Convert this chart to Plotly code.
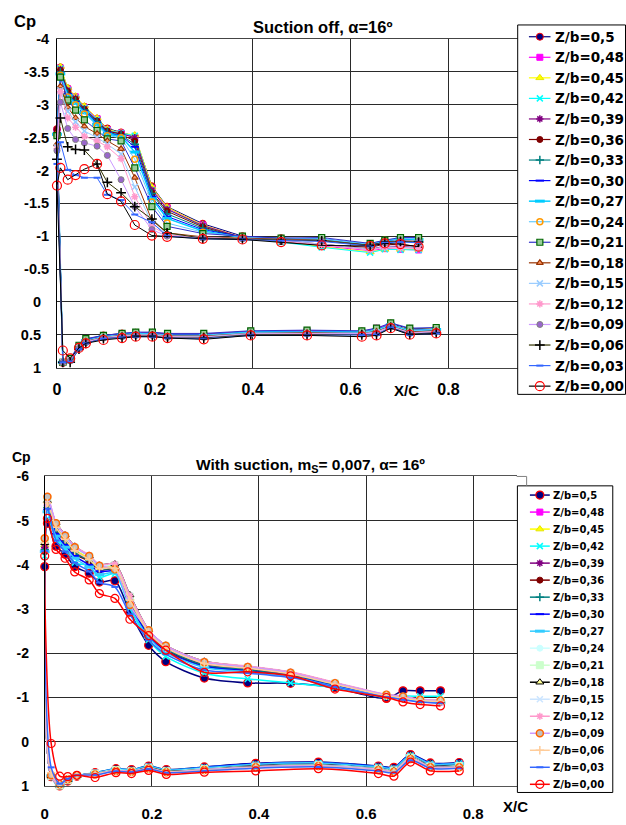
import plotly.graph_objects as go

# ---------------- data ----------------
SERIES = ["Z/b=0,5", "Z/b=0,48", "Z/b=0,45", "Z/b=0,42", "Z/b=0,39", "Z/b=0,36",
          "Z/b=0,33", "Z/b=0,30", "Z/b=0,27", "Z/b=0,24", "Z/b=0,21", "Z/b=0,18",
          "Z/b=0,15", "Z/b=0,12", "Z/b=0,09", "Z/b=0,06", "Z/b=0,03", "Z/b=0,00"]

# Suction off: upper surface stations (leading edge -> trailing edge)
OFF_XU = [0, 0.007, 0.022, 0.038, 0.056, 0.082, 0.103, 0.131, 0.159, 0.194,
          0.225, 0.298, 0.379, 0.458, 0.541, 0.64, 0.67, 0.702, 0.739]
# Suction off: lower surface stations
OFF_XL = [0.012, 0.027, 0.045, 0.059, 0.095, 0.133, 0.161, 0.195, 0.226, 0.3,
          0.396, 0.511, 0.623, 0.653, 0.682, 0.721, 0.775]

OFF_UPPER = [
    [-2.63, -3.57, -3.25, -3.12, -2.97, -2.79, -2.64, -2.58, -2.52, -1.76, -1.45, -1.19, -1.00, -0.97, -0.96, -0.87, -0.93, -0.96, -0.96],
    [-2.60, -3.56, -3.24, -3.12, -2.96, -2.79, -2.62, -2.57, -2.50, -1.73, -1.43, -1.17, -0.98, -0.93, -0.85, -0.78, -0.81, -0.80, -0.79],
    [-2.58, -3.58, -3.26, -3.13, -2.98, -2.80, -2.63, -2.57, -2.54, -1.75, -1.44, -1.17, -0.98, -0.92, -0.84, -0.76, -0.80, -0.80, -0.80],
    [-2.56, -3.55, -3.22, -3.10, -2.95, -2.77, -2.61, -2.57, -2.53, -1.70, -1.41, -1.15, -0.97, -0.91, -0.83, -0.75, -0.80, -0.79, -0.79],
    [-2.58, -3.54, -3.22, -3.10, -2.94, -2.76, -2.60, -2.56, -2.50, -1.70, -1.41, -1.16, -0.98, -0.93, -0.88, -0.80, -0.85, -0.84, -0.83],
    [-2.62, -3.52, -3.20, -3.08, -2.93, -2.75, -2.60, -2.55, -2.45, -1.66, -1.38, -1.14, -0.97, -0.92, -0.87, -0.83, -0.88, -0.87, -0.85],
    [-2.57, -3.50, -3.17, -3.06, -2.92, -2.74, -2.58, -2.54, -2.40, -1.65, -1.34, -1.12, -0.98, -0.95, -0.94, -0.86, -0.91, -0.93, -0.92],
    [-2.55, -3.48, -3.16, -3.04, -2.90, -2.72, -2.57, -2.53, -2.36, -1.60, -1.30, -1.10, -0.99, -0.96, -0.96, -0.87, -0.93, -0.96, -0.95],
    [-2.55, -3.47, -3.14, -3.02, -2.88, -2.70, -2.55, -2.52, -2.28, -1.57, -1.27, -1.08, -0.98, -0.96, -0.95, -0.88, -0.93, -0.96, -0.95],
    [-2.54, -3.45, -3.12, -3.00, -2.86, -2.68, -2.53, -2.50, -2.17, -1.52, -1.20, -1.06, -0.99, -0.96, -0.96, -0.88, -0.94, -0.97, -0.96],
    [-2.53, -3.42, -3.07, -2.92, -2.77, -2.61, -2.48, -2.45, -2.04, -1.45, -1.15, -1.04, -1.00, -0.97, -0.98, -0.89, -0.94, -0.98, -0.98],
    [-2.40, -3.28, -2.96, -2.80, -2.67, -2.56, -2.45, -2.33, -1.89, -1.24, -1.05, -0.99, -0.97, -0.95, -0.94, -0.86, -0.91, -0.93, -0.92],
    [-2.35, -3.22, -2.90, -2.74, -2.60, -2.50, -2.40, -2.25, -1.75, -1.20, -1.03, -0.98, -0.96, -0.93, -0.88, -0.80, -0.84, -0.83, -0.82],
    [-2.33, -3.20, -2.80, -2.66, -2.52, -2.45, -2.36, -2.18, -1.60, -1.15, -1.02, -0.98, -0.96, -0.93, -0.87, -0.79, -0.83, -0.82, -0.81],
    [-2.30, -3.04, -2.64, -2.47, -2.42, -2.37, -2.23, -1.86, -1.45, -1.10, -1.00, -0.97, -0.96, -0.94, -0.93, -0.85, -0.90, -0.93, -0.92],
    [-2.17, -2.80, -2.36, -2.32, -2.31, -2.10, -1.82, -1.66, -1.45, -1.26, -1.05, -0.97, -0.96, -0.94, -0.93, -0.86, -0.91, -0.92, -0.91],
    [-2.10, -2.43, -2.01, -1.93, -1.89, -1.89, -1.63, -1.55, -1.33, -1.21, -1.00, -0.96, -0.95, -0.93, -0.92, -0.85, -0.90, -0.91, -0.90],
    [-1.77, -2.04, -1.86, -1.93, -2.02, -2.10, -1.64, -1.53, -1.17, -1.01, -0.99, -0.96, -0.95, -0.91, -0.86, -0.85, -0.89, -0.88, -0.84],
]
OFF_LOWER = [
    [0.93, 0.87, 0.67, 0.57, 0.51, 0.48, 0.47, 0.47, 0.49, 0.49, 0.45, 0.44, 0.45, 0.41, 0.33, 0.41, 0.40],
    [0.92, 0.87, 0.68, 0.58, 0.52, 0.49, 0.47, 0.48, 0.50, 0.50, 0.45, 0.44, 0.46, 0.40, 0.34, 0.43, 0.41],
    [0.92, 0.88, 0.68, 0.58, 0.52, 0.49, 0.48, 0.48, 0.50, 0.50, 0.46, 0.45, 0.46, 0.42, 0.35, 0.42, 0.41],
    [0.92, 0.88, 0.69, 0.59, 0.52, 0.50, 0.48, 0.48, 0.51, 0.51, 0.46, 0.45, 0.46, 0.43, 0.35, 0.44, 0.42],
    [0.92, 0.88, 0.69, 0.59, 0.53, 0.50, 0.49, 0.49, 0.51, 0.51, 0.47, 0.46, 0.47, 0.44, 0.36, 0.45, 0.43],
    [0.92, 0.88, 0.70, 0.60, 0.53, 0.51, 0.49, 0.49, 0.52, 0.52, 0.47, 0.47, 0.47, 0.45, 0.36, 0.46, 0.44],
    [0.92, 0.88, 0.69, 0.59, 0.53, 0.50, 0.49, 0.49, 0.51, 0.51, 0.47, 0.46, 0.47, 0.44, 0.36, 0.45, 0.43],
    [0.93, 0.87, 0.68, 0.58, 0.52, 0.49, 0.48, 0.48, 0.50, 0.50, 0.46, 0.45, 0.46, 0.42, 0.35, 0.43, 0.42],
    [0.92, 0.88, 0.69, 0.59, 0.53, 0.50, 0.48, 0.49, 0.51, 0.51, 0.46, 0.46, 0.46, 0.43, 0.35, 0.44, 0.42],
    [0.92, 0.88, 0.69, 0.59, 0.53, 0.50, 0.49, 0.49, 0.51, 0.51, 0.47, 0.46, 0.47, 0.43, 0.36, 0.44, 0.42],
    [0.92, 0.86, 0.66, 0.56, 0.51, 0.48, 0.46, 0.46, 0.48, 0.48, 0.44, 0.43, 0.44, 0.40, 0.32, 0.40, 0.39],
    [0.92, 0.89, 0.70, 0.60, 0.54, 0.51, 0.50, 0.50, 0.52, 0.52, 0.48, 0.47, 0.48, 0.45, 0.37, 0.46, 0.44],
    [0.92, 0.89, 0.70, 0.61, 0.54, 0.52, 0.50, 0.50, 0.53, 0.53, 0.48, 0.48, 0.48, 0.46, 0.37, 0.47, 0.45],
    [0.92, 0.89, 0.71, 0.61, 0.55, 0.52, 0.51, 0.51, 0.53, 0.54, 0.49, 0.48, 0.49, 0.47, 0.38, 0.47, 0.45],
    [0.92, 0.90, 0.71, 0.62, 0.55, 0.53, 0.51, 0.51, 0.54, 0.54, 0.49, 0.49, 0.49, 0.48, 0.38, 0.48, 0.46],
    [0.92, 0.92, 0.72, 0.63, 0.56, 0.54, 0.52, 0.52, 0.55, 0.55, 0.50, 0.50, 0.50, 0.50, 0.39, 0.49, 0.47],
    [0.92, 0.91, 0.72, 0.63, 0.56, 0.54, 0.53, 0.53, 0.55, 0.56, 0.51, 0.51, 0.51, 0.50, 0.39, 0.50, 0.48],
    [0.74, 0.86, 0.70, 0.63, 0.58, 0.55, 0.53, 0.53, 0.55, 0.57, 0.51, 0.51, 0.53, 0.51, 0.40, 0.50, 0.48],
]

# With suction: stations
ON_XU = [0, 0.005, 0.021, 0.038, 0.056, 0.083, 0.102, 0.131, 0.159, 0.194,
         0.226, 0.298, 0.379, 0.459, 0.542, 0.638, 0.669, 0.701, 0.739]
ON_XL = [0.012, 0.028, 0.043, 0.06, 0.094, 0.133, 0.162, 0.194, 0.227, 0.298,
         0.394, 0.511, 0.623, 0.652, 0.683, 0.72, 0.774]

ON_UPPER = [
    [-3.96, -4.94, -4.42, -4.24, -3.96, -3.81, -3.61, -3.64, -2.93, -2.18, -1.81, -1.44, -1.33, -1.32, -1.22, -0.98, -1.15, -1.15, -1.15],
    [-4.40, -5.40, -4.88, -4.60, -4.33, -4.13, -3.93, -3.93, -3.22, -2.47, -2.13, -1.77, -1.66, -1.53, -1.30, -1.04, -0.98, -0.92, -0.90],
    [-4.45, -5.45, -4.90, -4.62, -4.35, -4.15, -3.95, -3.95, -3.25, -2.50, -2.15, -1.78, -1.67, -1.54, -1.31, -1.05, -0.99, -0.93, -0.91],
    [-4.20, -5.05, -4.60, -4.35, -4.05, -3.98, -3.72, -3.80, -3.02, -2.30, -1.93, -1.55, -1.42, -1.33, -1.22, -1.00, -1.03, -1.03, -1.03],
    [-4.40, -5.35, -4.85, -4.55, -4.28, -4.10, -3.90, -3.92, -3.20, -2.45, -2.10, -1.74, -1.64, -1.52, -1.28, -1.03, -0.98, -0.92, -0.90],
    [-4.30, -5.30, -4.80, -4.50, -4.25, -4.08, -3.88, -3.90, -3.15, -2.42, -2.08, -1.72, -1.62, -1.50, -1.27, -1.03, -0.97, -0.92, -0.90],
    [-4.35, -5.30, -4.82, -4.52, -4.27, -4.10, -3.90, -3.90, -3.18, -2.44, -2.10, -1.73, -1.63, -1.50, -1.28, -1.03, -0.98, -0.93, -0.90],
    [-4.30, -5.25, -4.70, -4.45, -4.20, -4.00, -3.85, -3.85, -3.10, -2.40, -2.05, -1.70, -1.60, -1.48, -1.26, -1.02, -0.97, -0.92, -0.89],
    [-4.30, -5.20, -4.65, -4.40, -4.15, -3.95, -3.78, -3.82, -3.05, -2.36, -2.02, -1.68, -1.58, -1.47, -1.25, -1.02, -0.97, -0.92, -0.88],
    [-4.55, -5.50, -4.92, -4.64, -4.38, -4.18, -3.97, -3.98, -3.27, -2.50, -2.16, -1.79, -1.68, -1.55, -1.31, -1.05, -1.00, -0.94, -0.92],
    [-4.55, -5.50, -4.93, -4.65, -4.39, -4.19, -3.97, -3.99, -3.28, -2.51, -2.16, -1.79, -1.68, -1.55, -1.32, -1.05, -1.01, -0.94, -0.92],
    [-4.50, -5.45, -4.95, -4.68, -4.42, -4.20, -4.00, -4.02, -3.32, -2.53, -2.18, -1.82, -1.70, -1.57, -1.33, -1.06, -1.02, -0.95, -0.93],
    [-4.55, -5.52, -4.94, -4.66, -4.40, -4.20, -3.98, -4.00, -3.30, -2.52, -2.17, -1.81, -1.70, -1.57, -1.33, -1.06, -1.02, -0.95, -0.93],
    [-4.60, -5.55, -4.95, -4.68, -4.42, -4.22, -4.00, -4.02, -3.30, -2.53, -2.18, -1.82, -1.71, -1.58, -1.34, -1.07, -1.03, -0.96, -0.94],
    [-4.60, -5.54, -4.94, -4.66, -4.40, -4.20, -3.98, -3.90, -3.09, -2.52, -2.17, -1.80, -1.69, -1.56, -1.32, -1.06, -1.02, -0.95, -0.93],
    [-4.50, -5.40, -4.85, -4.58, -4.32, -4.12, -3.92, -3.92, -3.20, -2.47, -2.13, -1.77, -1.66, -1.53, -1.30, -1.04, -0.99, -0.93, -0.91],
    [-4.31, -5.27, -4.55, -4.30, -4.05, -3.85, -3.60, -3.50, -2.88, -2.30, -1.98, -1.62, -1.55, -1.45, -1.24, -1.01, -0.95, -0.90, -0.87],
    [-4.20, -5.05, -4.35, -4.15, -3.84, -3.66, -3.35, -3.24, -2.77, -2.40, -2.07, -1.57, -1.58, -1.49, -1.19, -1.00, -0.90, -0.84, -0.81],
]
ON_LOWER = [
    [0.79, 1.00, 0.89, 0.78, 0.70, 0.61, 0.63, 0.55, 0.63, 0.57, 0.49, 0.46, 0.55, 0.58, 0.29, 0.48, 0.47],
    [0.78, 0.99, 0.87, 0.77, 0.71, 0.63, 0.65, 0.57, 0.65, 0.60, 0.53, 0.50, 0.58, 0.62, 0.33, 0.52, 0.51],
    [0.78, 0.99, 0.87, 0.77, 0.71, 0.63, 0.65, 0.57, 0.65, 0.60, 0.53, 0.50, 0.58, 0.62, 0.32, 0.51, 0.51],
    [0.79, 1.00, 0.88, 0.77, 0.70, 0.62, 0.64, 0.56, 0.64, 0.58, 0.51, 0.48, 0.56, 0.60, 0.31, 0.50, 0.49],
    [0.78, 0.99, 0.87, 0.77, 0.71, 0.63, 0.65, 0.58, 0.66, 0.61, 0.54, 0.51, 0.59, 0.63, 0.34, 0.53, 0.52],
    [0.78, 0.99, 0.87, 0.77, 0.72, 0.64, 0.66, 0.58, 0.66, 0.61, 0.54, 0.51, 0.60, 0.64, 0.35, 0.54, 0.53],
    [0.78, 0.99, 0.87, 0.77, 0.72, 0.64, 0.66, 0.58, 0.66, 0.62, 0.55, 0.52, 0.60, 0.64, 0.35, 0.54, 0.53],
    [0.77, 1.00, 0.88, 0.77, 0.71, 0.62, 0.64, 0.56, 0.64, 0.58, 0.50, 0.47, 0.56, 0.59, 0.30, 0.49, 0.48],
    [0.77, 1.00, 0.88, 0.77, 0.71, 0.62, 0.64, 0.56, 0.64, 0.59, 0.51, 0.48, 0.57, 0.60, 0.31, 0.50, 0.49],
    [0.78, 0.99, 0.87, 0.77, 0.72, 0.64, 0.66, 0.59, 0.67, 0.62, 0.56, 0.53, 0.61, 0.65, 0.36, 0.55, 0.55],
    [0.78, 0.99, 0.87, 0.77, 0.72, 0.64, 0.67, 0.59, 0.67, 0.62, 0.56, 0.53, 0.61, 0.65, 0.36, 0.56, 0.55],
    [0.78, 0.98, 0.86, 0.77, 0.72, 0.65, 0.67, 0.59, 0.67, 0.63, 0.56, 0.54, 0.62, 0.66, 0.37, 0.56, 0.56],
    [0.78, 0.98, 0.86, 0.77, 0.73, 0.65, 0.67, 0.60, 0.68, 0.63, 0.57, 0.54, 0.62, 0.66, 0.37, 0.57, 0.56],
    [0.78, 0.98, 0.86, 0.77, 0.73, 0.65, 0.68, 0.60, 0.68, 0.64, 0.57, 0.55, 0.63, 0.67, 0.38, 0.57, 0.57],
    [0.76, 0.96, 0.85, 0.76, 0.74, 0.66, 0.68, 0.61, 0.69, 0.64, 0.58, 0.55, 0.64, 0.68, 0.39, 0.58, 0.58],
    [0.70, 0.95, 0.84, 0.76, 0.74, 0.66, 0.69, 0.61, 0.69, 0.65, 0.59, 0.56, 0.65, 0.69, 0.40, 0.59, 0.59],
    [0.58, 0.95, 0.84, 0.76, 0.75, 0.67, 0.69, 0.62, 0.70, 0.66, 0.60, 0.57, 0.66, 0.70, 0.42, 0.60, 0.60],
    [0.04, 0.78, 0.79, 0.76, 0.81, 0.70, 0.72, 0.65, 0.74, 0.69, 0.66, 0.61, 0.72, 0.78, 0.46, 0.66, 0.66],
]

OFF_YTICKS = [-4, -3.5, -3, -2.5, -2, -1.5, -1, -0.5, 0, 0.5, 1]
OFF_YTEXT = ["-4", "-3.5", "-3", "-2.5", "-2", "-1.5", "-1", "-0.5", "0\u00a0\u00a0", "0.5\u00a0\u00a0", "1\u00a0\u00a0"]
ON_YTICKS = [-6, -5, -4, -3, -2, -1, 0, 1]
ON_YTEXT = ["-6", "-5", "-4", "-3", "-2", "-1", "0", "1"]
XTICKS = [0, 0.2, 0.4, 0.6, 0.8]
XTEXT = ["0", "0.2", "0.4", "0.6", "0.8"]

# ---------------- styles ----------------
# (line colour, line width, symbol, size, fill, edge, edge width)
ST_OFF = [
    ("#000080", 1, "circle", 7, "#000080", "#FF0000", 1),
    ("#FF00FF", 1, "square", 6, "#FF00FF", "#FF00FF", 1),
    ("#FFFF00", 1, "triangle-up", 7, "#FFFF00", "#E6E600", 1),
    ("#00FFFF", 1, "x-thin-open", 6, "#00FFFF", "#00FFFF", 1.5),
    ("#800080", 1, "asterisk-open", 6, "#800080", "#800080", 1.5),
    ("#800000", 1, "circle", 6, "#800000", "#800000", 1),
    ("#008080", 1, "cross-thin-open", 6, "#008080", "#008080", 1.5),
    ("#0000FF", 1, "line-ew-open", 6, "#0000FF", "#0000FF", 2),
    ("#00CCFF", 1.5, "line-ew-open", 7, "#00CCFF", "#00CCFF", 3),
    ("#66CCFF", 1, "circle-open", 6, "#FF9900", "#FF9900", 1.5),
    ("#3333CC", 1, "square", 6, "#99CC99", "#006600", 1.2),
    ("#993300", 1, "triangle-up", 6, "#FF9966", "#993300", 1.2),
    ("#99CCFF", 1, "x-thin-open", 6, "#99CCFF", "#99CCFF", 1.5),
    ("#FF99CC", 1, "asterisk-open", 6, "#FF99CC", "#FF99CC", 1.5),
    ("#CC99FF", 1, "circle", 6, "#9966CC", "#808080", 1),
    ("#333300", 1, "cross-thin-open", 7, "#000000", "#000000", 1.5),
    ("#3366FF", 1, "line-ew-open", 5, "#3366FF", "#3366FF", 2),
    ("#000000", 1, "circle-open", 9, "#FF0000", "#FF0000", 1.2),
]
ST_ON = [
    ("#000080", 1.5, "circle", 8, "#000080", "#FF0000", 1.2),
    ("#FF00FF", 1.5, "square", 6, "#FF00FF", "#FF00FF", 1),
    ("#FFFF00", 1.5, "triangle-up", 7, "#FFFF00", "#E6E600", 1),
    ("#00FFFF", 1.5, "x-thin-open", 6, "#00FFFF", "#00FFFF", 1.5),
    ("#800080", 1.5, "asterisk-open", 6, "#800080", "#800080", 1.5),
    ("#800000", 1.5, "circle", 6, "#800000", "#800000", 1),
    ("#008080", 1.5, "cross-thin-open", 6, "#008080", "#008080", 1.5),
    ("#0000FF", 1.5, "line-ew-open", 6, "#0000FF", "#0000FF", 2),
    ("#33CCFF", 1.5, "line-ew-open", 7, "#33CCFF", "#33CCFF", 3),
    ("#CCFFFF", 1.5, "circle", 6, "#CCFFFF", "#CCFFFF", 1),
    ("#CCFFCC", 1.5, "square", 7, "#CCFFCC", "#CCFFCC", 1),
    ("#000000", 1.5, "triangle-up", 7, "#FFFF99", "#000000", 1),
    ("#CCE5FF", 1.5, "x-thin-open", 6, "#CCE5FF", "#CCE5FF", 1.5),
    ("#FF99CC", 1.5, "asterisk-open", 6, "#FF99CC", "#FF99CC", 1.5),
    ("#CC99FF", 1.5, "circle", 7, "#C0C0C0", "#FF6600", 1.5),
    ("#FFCC99", 1.5, "cross-thin-open", 6, "#FFCC99", "#FFCC99", 1.5),
    ("#3366FF", 1.5, "line-ew-open", 5, "#3366FF", "#3366FF", 2),
    ("#FF0000", 1.5, "circle-open", 8, "#FF0000", "#FF0000", 1.2),
]

ARIAL = "Liberation Sans, Arial, sans-serif"
WIDE = "DejaVu Sans, Verdana, sans-serif"
GRID = "#2a2a2a"
W, H = 626, 825


def marker(st, opacity=None):
    lc, lw, sym, sz, fill, edge, ew = st
    m = dict(symbol=sym, size=sz, color=fill, line=dict(color=edge, width=ew))
    if opacity is not None:
        m["opacity"] = opacity
    return m


def bold(items):
    return ["<b>" + t + "</b>" for t in items]


fig = go.Figure()

# ---- chart 1: suction off ----
for i, name in enumerate(SERIES):
    xs = list(reversed(OFF_XU)) + OFF_XL
    ys = list(reversed(OFF_UPPER[i])) + OFF_LOWER[i]
    st = ST_OFF[i]
    fig.add_trace(go.Scatter(x=xs, y=ys, mode="lines+markers", name=name,
                             line=dict(color=st[0], width=st[1]),
                             marker=marker(st), cliponaxis=False,
                             xaxis="x", yaxis="y", showlegend=False))

# ---- chart 2: with suction ----
for i, name in enumerate(SERIES):
    xs = list(reversed(ON_XU)) + ON_XL
    ys = list(reversed(ON_UPPER[i])) + ON_LOWER[i]
    st = ST_ON[i]
    fig.add_trace(go.Scatter(x=xs, y=ys, mode="lines+markers", name=name,
                             line=dict(color=st[0], width=st[1], shape="spline", smoothing=0.8),
                             marker=marker(st), cliponaxis=False,
                             xaxis="x2", yaxis="y2", showlegend=False))

# ---- hand-made legends on a pixel overlay axis ----
LEG1 = dict(x0=517, x1=625.5, y0=17.3, y1=394, row0=29.3, step=20.96,
            lx0=528.3, lx1=550, mx=539.3, tx=552.7, fs=13.5)
LEG2 = dict(x0=516.7, x1=612.7, y0=487.3, y1=800, row0=496.7, step=17.35,
            lx0=529.3, lx1=549.3, mx=539.3, tx=551, fs=10)

shapes = []
annotations = []
for leg, styles in ((LEG1, ST_OFF), (LEG2, ST_ON)):
    shapes.append(dict(type="rect", xref="x3", yref="y3", x0=leg["x0"], x1=leg["x1"],
                       y0=leg["y0"], y1=leg["y1"], fillcolor="white",
                       line=dict(color="black", width=1), layer="below"))
    for i, name in enumerate(SERIES):
        yc = leg["row0"] + i * leg["step"]
        st = styles[i]
        fig.add_trace(go.Scatter(x=[leg["lx0"], leg["mx"], leg["lx1"]], y=[yc, yc, yc],
                                 mode="lines+markers", line=dict(color=st[0], width=max(st[1], 1.2)),
                                 marker=marker(st, opacity=[0, 1, 0]),
                                 xaxis="x3", yaxis="y3", showlegend=False, hoverinfo="skip"))
        annotations.append(dict(xref="x3", yref="y3", x=leg["tx"], y=yc, text="<b>" + name + "</b>",
                                showarrow=False, xanchor="left", yanchor="middle",
                                font=dict(family=WIDE, size=leg["fs"], color="black")))

# bottom chart frame parts that peek out beside the legend
shapes.append(dict(type="path", xref="x3", yref="y3", path="M 516,477.7 L 526,477.7 L 526,487.3",
                   line=dict(color="#808080", width=1)))


def label(x, y, text, size, family=ARIAL):
    annotations.append(dict(xref="x3", yref="y3", x=x, y=y, text="<b>" + text + "</b>",
                            showarrow=False, xanchor="center", yanchor="middle",
                            font=dict(family=family, size=size, color="black")))


label(21.5, 13.5, "Cp", 16.5)
label(320.5, 19.5, "Suction off, \u03b1=16\u00ba", 16.5)
label(405, 390, "X/C", 15)
label(18, 457.5, "Cp", 14)
label(308.5, 466.5, "With suction, m<sub>S</sub>= 0,007, \u03b1= 16\u00ba", 15.5)
label(514.5, 814, "X/C", 15)

fig.update_layout(
    width=W, height=H, margin=dict(l=0, r=0, t=0, b=0),
    paper_bgcolor="white", plot_bgcolor="rgba(0,0,0,0)", showlegend=False,
    xaxis=dict(domain=[53.3 / W, 517 / W], range=[0, 0.9415], anchor="y",
               tickvals=XTICKS, ticktext=bold(XTEXT), showgrid=True, gridcolor=GRID, gridwidth=1,
               zeroline=False, showline=True, linecolor="#444444", linewidth=1, mirror=True,
               ticks="", tickfont=dict(family=ARIAL, size=16, color="black"),
               ticklabelstandoff=7, fixedrange=True),
    yaxis=dict(domain=[1 - 366.7 / H, 1 - 31.7 / H], range=[1, -4], anchor="x",
               tickvals=OFF_YTICKS, ticktext=bold(OFF_YTEXT), showgrid=True, gridcolor=GRID, gridwidth=1,
               zeroline=False, showline=True, linecolor="black", linewidth=1,
               ticks="", tickfont=dict(family=ARIAL, size=14.5, color="black"),
               ticklabelstandoff=4, fixedrange=True),
    xaxis2=dict(domain=[41 / W, 516 / W], range=[0, 0.8813], anchor="y2",
                tickvals=XTICKS, ticktext=bold(XTEXT), showgrid=True, gridcolor=GRID, gridwidth=1,
                zeroline=False, showline=True, linecolor="#555555", linewidth=1, mirror=True,
                ticks="", tickfont=dict(family=ARIAL, size=15, color="black"),
                ticklabelstandoff=14, fixedrange=True),
    yaxis2=dict(domain=[1 - 793.3 / H, 1 - 477.7 / H], range=[1, -6], anchor="x2",
                tickvals=ON_YTICKS, ticktext=bold(ON_YTEXT), showgrid=True, gridcolor=GRID, gridwidth=1,
                zeroline=False, showline=True, linecolor="black", linewidth=1,
                ticks="", tickfont=dict(family=ARIAL, size=14, color="black"),
                ticklabelstandoff=12, fixedrange=True),
    xaxis3=dict(domain=[0, 1], range=[0, W], anchor="y3", visible=False, fixedrange=True),
    yaxis3=dict(domain=[0, 1], range=[H, 0], anchor="x3", visible=False, fixedrange=True),
    shapes=shapes, annotations=annotations,
)

fig.write_html("out.html")
